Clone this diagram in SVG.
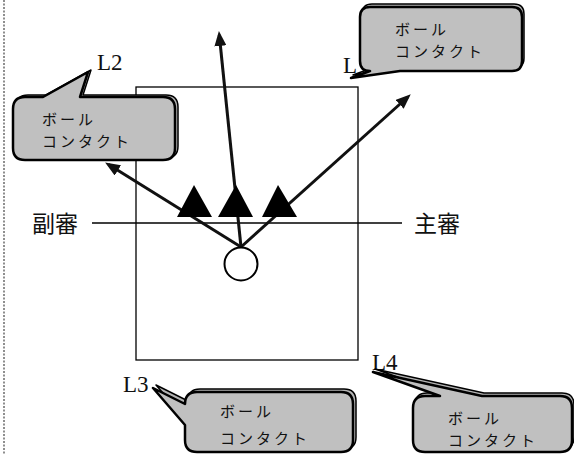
<svg xmlns="http://www.w3.org/2000/svg" width="574" height="455" viewBox="0 0 574 455">
<style>
.frame{fill:none;stroke:#000;stroke-width:1.3}
.arrow{fill:none;stroke:#111;stroke-width:3}
.tri{fill:#000}
.lbl{font-family:"Liberation Serif",serif;font-size:23px;fill:#111}
.ref{font-family:"Noto Sans CJK JP",sans-serif;font-size:23px;fill:#111}
.ct{font-family:"Noto Sans CJK JP",sans-serif;font-size:15px;letter-spacing:3px;fill:#111}
.bub{fill:#c0c0c0;stroke:#000;stroke-width:2.5;stroke-linejoin:round}
.shd{fill:#b4b4b4;stroke:#000;stroke-width:1.5;stroke-linejoin:round}
</style>
<defs>
<marker id="ah" markerUnits="userSpaceOnUse" markerWidth="15" markerHeight="12" refX="11" refY="6" orient="auto">
<path d="M0,0 L15,6 L0,12 Z" fill="#111"/>
</marker>
</defs>
<rect width="574" height="455" fill="#fff"/>
<line x1="4" y1="0" x2="4" y2="455" stroke="#444" stroke-width="1.2" stroke-dasharray="2,1.5"/>
<g id="court">
<rect class="frame" x="136" y="87" width="222" height="273"/>
<line class="frame" x1="92" y1="223" x2="402" y2="223"/>
</g>
<g id="connectors">
<line class="arrow" x1="241" y1="247" x2="108.5" y2="164.6" marker-end="url(#ah)"/>
<line class="arrow" x1="241" y1="247" x2="219.3" y2="35" marker-end="url(#ah)"/>
<line class="arrow" x1="241" y1="247" x2="407.8" y2="97" marker-end="url(#ah)"/>
</g>
<g id="players">
<polygon class="tri" points="194,185 177,217 212,217"/>
<polygon class="tri" points="236,185 218,217 253,217"/>
<polygon class="tri" points="278,185 262,217 297,217"/>
</g>
<g id="ball">
<circle cx="241" cy="264" r="16.5" fill="#fff" stroke="#000" stroke-width="2"/>
</g>
<g id="referee-sub"><text class="ref" x="32" y="232">副審</text></g>
<g id="referee-main"><text class="ref" x="414" y="232">主審</text></g>
<g id="labels">
<text class="lbl" x="97" y="70">L2</text>
<text class="lbl" x="343" y="73">L</text>
<text class="lbl" x="123" y="392">L3</text>
<text class="lbl" x="372" y="370">L4</text>
</g>
<g id="callout-L1">
<path class="shd" transform="translate(2,-3)" d="M370,7 H512 Q522,7 522,17 V61 Q522,71 512,71 H400 L351,78 L370,71 Q360,71 360,61 V17 Q360,7 370,7 Z"/>
<path class="bub" d="M370,7 H512 Q522,7 522,17 V61 Q522,71 512,71 H400 L351,78 L370,71 Q360,71 360,61 V17 Q360,7 370,7 Z"/>
<text class="ct" x="395" y="35">ボール</text>
<text class="ct" x="395" y="57">コンタクト</text>
</g>
<g id="callout-L2">
<path class="shd" transform="translate(3,-2)" d="M25,97 H43 L88,72 L80,97 H163 Q175,97 175,109 V148 Q175,160 163,160 H25 Q13,160 13,148 V109 Q13,97 25,97 Z"/>
<path class="bub" d="M25,97 H43 L88,72 L80,97 H163 Q175,97 175,109 V148 Q175,160 163,160 H25 Q13,160 13,148 V109 Q13,97 25,97 Z"/>
<text class="ct" x="42" y="125">ボール</text>
<text class="ct" x="42" y="147">コンタクト</text>
</g>
<g id="callout-L3">
<path class="shd" transform="translate(3,-3)" d="M197,392 H341 Q353,392 353,404 V440 Q353,452 341,452 H197 Q185,452 185,440 V425 L153,388 L185,404 Q185,392 197,392 Z"/>
<path class="bub" d="M197,392 H341 Q353,392 353,404 V440 Q353,452 341,452 H197 Q185,452 185,440 V425 L153,388 L185,404 Q185,392 197,392 Z"/>
<text class="ct" x="220" y="417">ボール</text>
<text class="ct" x="220" y="444">コンタクト</text>
</g>
<g id="callout-L4">
<path class="shd" transform="translate(2,-3)" d="M425,396 H440 L373,372 L482,396 H560 Q572,396 572,408 V440 Q572,452 560,452 H425 Q413,452 413,440 V408 Q413,396 425,396 Z"/>
<path class="bub" d="M425,396 H440 L373,372 L482,396 H560 Q572,396 572,408 V440 Q572,452 560,452 H425 Q413,452 413,440 V408 Q413,396 425,396 Z"/>
<text class="ct" x="448" y="424">ボール</text>
<text class="ct" x="448" y="446">コンタクト</text>
</g>
</svg>
